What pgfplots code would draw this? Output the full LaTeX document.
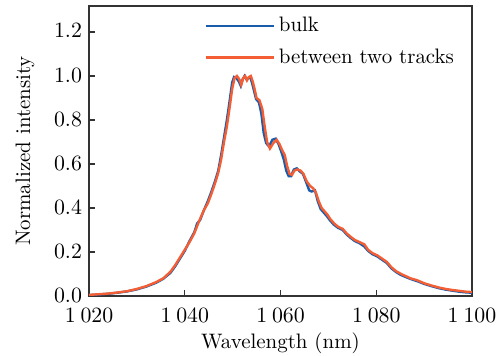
\documentclass[border=0pt]{standalone}
\usepackage{pgfplots}
\pgfplotsset{compat=1.18}
\definecolor{cblue}{RGB}{26,92,172}
\definecolor{corange}{RGB}{244,94,52}
\begin{document}
\begin{tikzpicture}
\useasboundingbox (-44.5bp,-30bp) rectangle (204bp,148bp);
\begin{axis}[
  scale only axis,
  width=191.5bp, height=145bp,
  xmin=1020, xmax=1100, ymin=0, ymax=1.318,
  xtick={1020,1040,1060,1080,1100},
  ytick={0,0.2,0.4,0.6,0.8,1.0,1.2},
  tick pos=left, tick align=inside,
  major tick length=3bp,
  axis line style={black!80, line width=0.6pt},
  tick style={black!80, line width=0.6pt},
  tick label style={font=\fontsize{10.5}{12}\selectfont},
  label style={font=\fontsize{10.5}{12}\selectfont},
  xticklabel style={/pgf/number format/1000 sep={\:}, yshift=-2.8bp},
  yticklabel style={/pgf/number format/fixed, /pgf/number format/fixed zerofill, /pgf/number format/precision=1, yshift=0.5bp},
  xlabel={Wavelength (nm)},
  ylabel={Normalized intensity},
  xlabel style={yshift=2pt},
  ylabel style={yshift=3pt},
  legend style={at={(0.285,0.99)}, anchor=north west, draw=none, fill=none, row sep=3pt, font=\fontsize{10.5}{12}\selectfont},
  legend cell align=left,
  legend image code/.code={\draw[#1] (0,0) -- (34bp,0);},
]
\addplot[cblue, line width=1.2pt] coordinates {
(1020,0.004)(1022,0.007)(1024,0.010)(1026,0.015)(1028,0.021)(1030,0.030)(1032,0.043)(1034,0.060)(1035.5,0.078)(1037,0.105)(1038,0.135)(1039,0.17)(1040,0.205)(1041,0.25)(1042,0.29)(1042.6,0.33)(1043.2,0.345)(1044,0.39)(1044.8,0.43)(1045.5,0.47)(1046.3,0.52)(1047,0.57)(1047.6,0.64)(1048.2,0.72)(1048.8,0.80)(1049.4,0.89)(1049.9,0.97)(1050.3,0.995)(1050.8,0.99)(1051.3,0.975)(1051.7,0.955)(1052.1,0.985)(1052.5,1.0)(1052.9,0.985)(1053.3,0.99)(1053.7,0.995)(1054.1,0.965)(1054.5,0.93)(1054.9,0.895)(1055.5,0.88)(1056.0,0.83)(1056.5,0.74)(1057.0,0.695)(1057.6,0.68)(1058.3,0.71)(1059.0,0.715)(1059.6,0.69)(1060.1,0.66)(1060.7,0.62)(1061.2,0.57)(1061.7,0.545)(1062.2,0.545)(1062.8,0.575)(1063.4,0.58)(1064.1,0.565)(1064.7,0.555)(1065.4,0.515)(1066.0,0.48)(1066.5,0.475)(1067.2,0.48)(1067.8,0.43)(1068.4,0.395)(1069.0,0.38)(1069.6,0.365)(1070.3,0.345)(1071.1,0.325)(1072,0.31)(1073,0.30)(1073.8,0.28)(1074.6,0.265)(1075.5,0.25)(1076.5,0.24)(1077.5,0.225)(1078.3,0.205)(1079.2,0.19)(1080.2,0.18)(1081.2,0.165)(1082.2,0.15)(1083.2,0.125)(1084.2,0.108)(1085.2,0.095)(1086.2,0.086)(1087.2,0.077)(1088.5,0.068)(1090,0.055)(1091.5,0.045)(1093,0.036)(1094.5,0.029)(1096,0.024)(1097.5,0.019)(1099,0.016)(1100,0.015)
};
\addlegendentry{bulk}
\addplot[corange, line width=1.2pt] coordinates {
(1020,0.005)(1022,0.008)(1024,0.011)(1026,0.016)(1028,0.022)(1030,0.032)(1032,0.045)(1034,0.063)(1035.5,0.08)(1037,0.11)(1038,0.14)(1039,0.175)(1040,0.21)(1041,0.245)(1042,0.285)(1043,0.34)(1044,0.39)(1044.8,0.42)(1045.5,0.46)(1046.3,0.51)(1047,0.56)(1047.6,0.62)(1048.2,0.70)(1048.8,0.77)(1049.4,0.86)(1049.9,0.94)(1050.4,0.99)(1050.9,1.0)(1051.4,0.985)(1051.8,0.96)(1052.2,0.99)(1052.6,1.0)(1053.0,0.98)(1053.4,0.995)(1053.8,1.0)(1054.2,0.975)(1054.6,0.94)(1055.0,0.90)(1055.6,0.89)(1056.2,0.85)(1056.7,0.77)(1057.2,0.70)(1057.8,0.67)(1058.5,0.695)(1059.2,0.71)(1059.8,0.69)(1060.3,0.665)(1060.9,0.64)(1061.4,0.59)(1061.9,0.555)(1062.4,0.55)(1062.9,0.57)(1063.5,0.575)(1064.2,0.57)(1064.8,0.555)(1065.5,0.52)(1066.2,0.50)(1066.8,0.49)(1067.4,0.47)(1068.0,0.43)(1068.6,0.40)(1069.2,0.385)(1069.8,0.37)(1070.4,0.35)(1071.2,0.33)(1072,0.315)(1073,0.305)(1073.8,0.285)(1074.6,0.27)(1075.5,0.255)(1076.5,0.245)(1077.5,0.235)(1078.3,0.21)(1079.2,0.195)(1080.2,0.185)(1081.2,0.17)(1082.2,0.155)(1083.2,0.13)(1084.2,0.112)(1085.2,0.10)(1086.2,0.09)(1087.2,0.08)(1088.5,0.072)(1090,0.058)(1091.5,0.048)(1093,0.039)(1094.5,0.032)(1096,0.027)(1097.5,0.023)(1099,0.019)(1100,0.018)
};
\addlegendentry{between two tracks}
\end{axis}
\end{tikzpicture}
\end{document}
